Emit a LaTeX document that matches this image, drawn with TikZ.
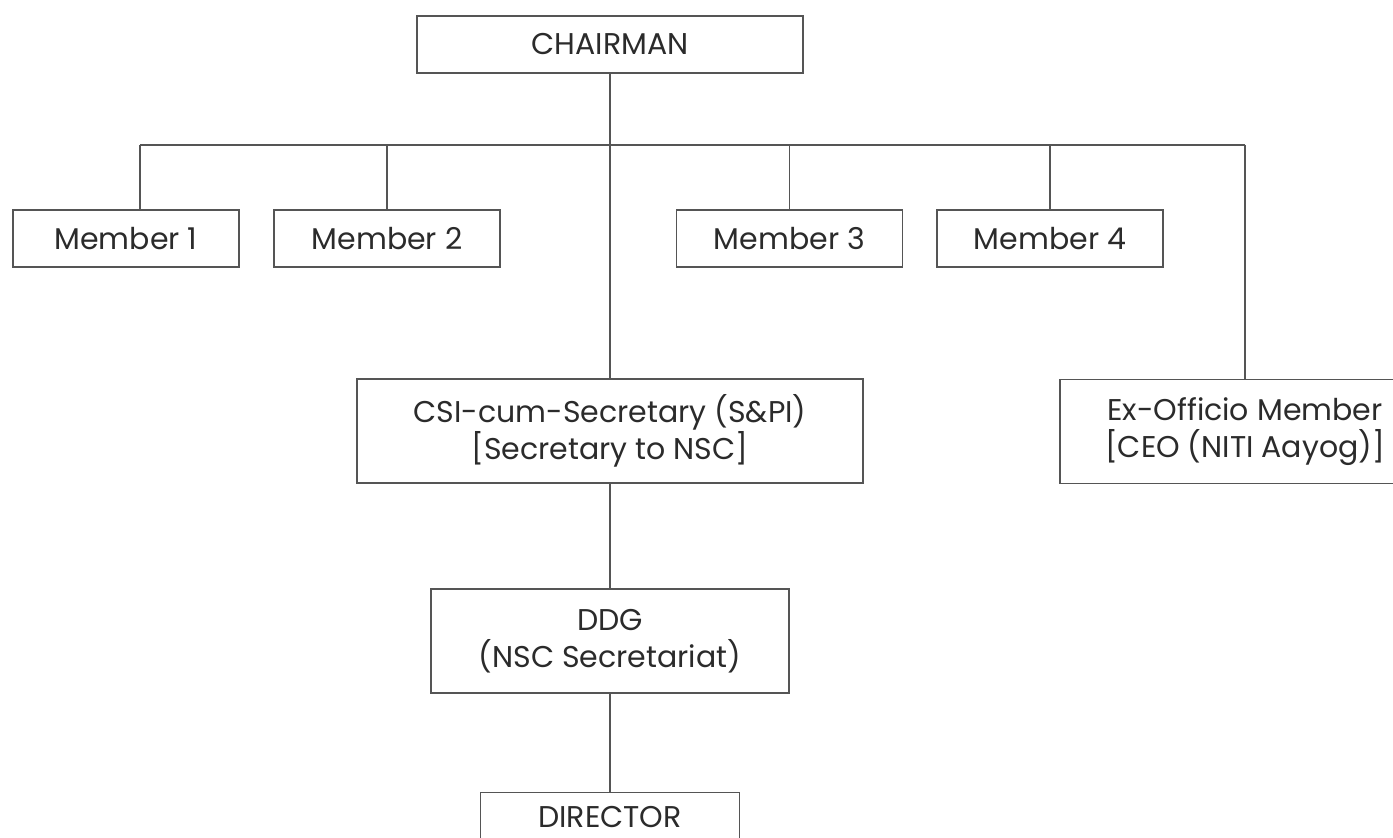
\documentclass[tikz,border=0pt]{standalone}
\usepackage{fontspec}
\setmainfont{Poppins}
\usepackage{tikz}
\usetikzlibrary{positioning}
\definecolor{linegray}{HTML}{555555}
\definecolor{textgray}{HTML}{2B2B2B}

\begin{document}
\begin{tikzpicture}[x=0.5pt, y=-0.5pt, line width=0.75pt, draw=linegray,
    post/.style={draw=linegray, text=textgray, align=center, inner sep=0pt,
        font=\fontsize{15}{18.5}\selectfont},
    link/.style={draw=linegray}]
        \useasboundingbox (0,0) rectangle (1393,838);
        \clip (0,0) rectangle (1393,838);
        \begin{scope}[every node/.style={post, minimum height=28.5pt}]
            \node[minimum width=193pt] (chair) at (610,44.5) {CHAIRMAN};
            \node[minimum width=113pt] (m1) at (126,238.5) {Member 1};
            \node[minimum width=113pt] (m2) at (387,238.5) {Member 2};
            \node[minimum width=113pt] (m3) at (789.5,238.5) {Member 3};
            \node[minimum width=113pt] (m4) at (1050,238.5) {Member 4};
            \node[minimum width=129.5pt, text depth=4pt] (dir) at (610,821) {DIRECTOR};
        \end{scope}
        \begin{scope}[every node/.style={post, minimum height=52pt}]
            \node[minimum width=253pt] (csi) at (610,431) {CSI-cum-Secretary (S\&PI)\\{[Secretary to NSC]}};
            \node[minimum width=185pt] (exo) at (1245,431.5) {Ex-Officio Member\\{[CEO (NITI Aayog)]}};
            \node[minimum width=179pt] (ddg) at (610,641) {DDG\\(NSC Secretariat)};
        \end{scope}
        \coordinate (busl) at (140,145);
        \coordinate (busr) at (1245,145);
        \draw[link] (busl) -- (busr);
        \draw[link] (busl) -- (busl |- m1.north);
        \draw[link] (m2.north |- busl) -- (m2.north);
        \draw[link] (m3.north |- busl) -- (m3.north);
        \draw[link] (m4.north |- busl) -- (m4.north);
        \draw[link] (busr) -- (exo.north);
        \draw[link] (chair) -- (csi);
        \draw[link] (csi) -- (ddg);
        \draw[link] (ddg) -- (dir);
    \end{tikzpicture}
\end{document}
